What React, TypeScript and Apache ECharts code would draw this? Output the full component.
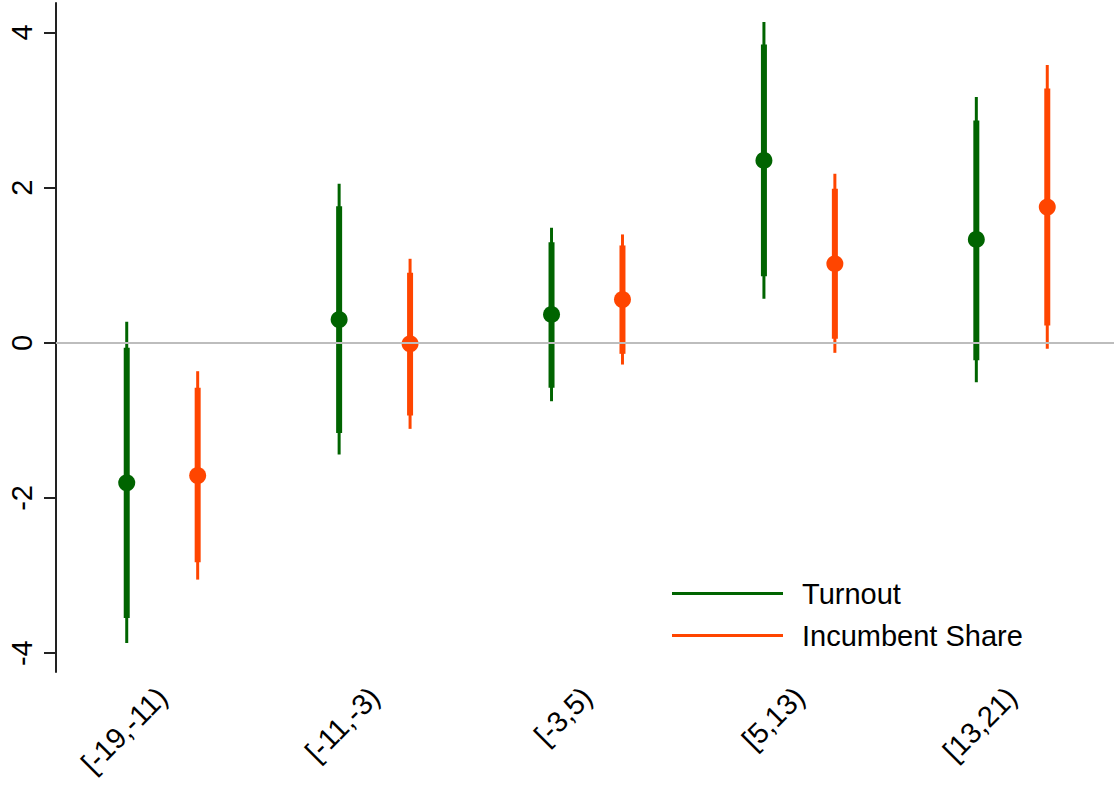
import React, { useEffect, useRef } from 'react';
import * as echarts from 'echarts';

const categories = ['[-19,-11)', '[-11,-3)', '[-3,5)', '[5,13)', '[13,21)'];
const seriesNames = ['Turnout', 'Incumbent Share'];

const turnoutEst = [-1.805, 0.3, 0.365, 2.351, 1.332];
const turnoutLo90 = [-3.546, -1.161, -0.58, 0.859, -0.224];
const turnoutHi90 = [-0.065, 1.761, 1.297, 3.846, 2.866];
const turnoutLo95 = [-3.868, -1.44, -0.753, 0.567, -0.508];
const turnoutHi95 = [0.27, 2.05, 1.483, 4.134, 3.167];

const incumbentEst = [-1.711, -0.013, 0.558, 1.019, 1.749];
const incumbentLo90 = [-2.829, -0.937, -0.142, 0.052, 0.223];
const incumbentHi90 = [-0.58, 0.903, 1.255, 1.986, 3.279];
const incumbentLo95 = [-3.052, -1.109, -0.28, -0.129, -0.077];
const incumbentHi95 = [-0.366, 1.083, 1.397, 2.179, 3.58];

const yTicks = [-4, -2, 0, 2, 4];

const GREEN = '#006400';
const ORANGE = '#ff4500';
const FONT = '"Liberation Sans", Arial, sans-serif';

function buildData(est: number[], lo90: number[], hi90: number[], lo95: number[], hi95: number[]) {
  return categories.map((_, i) => [i, est[i], lo90[i], hi90[i], lo95[i], hi95[i]]);
}

function makeRender(offset: number) {
  return (params: any, api: any) => {
    const i = api.value(0);
    const band = api.size([1, 0])[0];
    const x = api.coord([i, 0])[0] + offset * band;
    const y = (v: number) => api.coord([i, v])[1];
    const color = api.visual('color');
    return {
      type: 'group',
      children: [
        {
          type: 'line',
          shape: { x1: x, y1: y(api.value(4)), x2: x, y2: y(api.value(5)) },
          style: { stroke: color, lineWidth: 3, lineCap: 'butt' },
        },
        {
          type: 'line',
          shape: { x1: x, y1: y(api.value(2)), x2: x, y2: y(api.value(3)) },
          style: { stroke: color, lineWidth: 6, lineCap: 'butt' },
        },
        {
          type: 'circle',
          shape: { cx: x, cy: y(api.value(1)), r: 8.5 },
          style: { fill: color },
        },
      ],
    };
  };
}

export default function App() {
  const ref = useRef<HTMLDivElement>(null);
  useEffect(() => {
    if (!ref.current) return;
    const chart = echarts.init(ref.current, null, { renderer: 'svg' });
    chart.setOption({
      animation: false,
      backgroundColor: '#ffffff',
      textStyle: { fontFamily: FONT },
      grid: { left: 56, top: 3, width: 1062, bottom: 113, outerBoundsMode: 'none', containLabel: false },
      legend: {
        data: seriesNames,
        orient: 'vertical',
        left: 672,
        top: 579,
        padding: 0,
        icon: 'rect',
        itemWidth: 111,
        itemHeight: 3,
        itemGap: 13,
        selectedMode: false,
        textStyle: {
          fontSize: 29,
          lineHeight: 29,
          color: '#000',
          fontFamily: FONT,
          padding: [0, 0, 0, 14],
        },
      },
      xAxis: {
        type: 'category',
        data: categories,
        boundaryGap: true,
        axisLine: { lineStyle: { color: '#222', width: 2 } },
        axisTick: { alignWithLabel: true, length: 12, lineStyle: { color: '#222', width: 2 } },
        axisLabel: {
          rotate: 45,
          margin: 20,
          fontSize: 29,
          color: '#000',
          fontFamily: FONT,
          interval: 0,
        },
        splitLine: { show: false },
      },
      yAxis: {
        type: 'value',
        min: -4.243,
        max: 4.38,
        axisLine: { show: true, lineStyle: { color: '#222', width: 2 } },
        axisTick: { show: true, length: 12, customValues: yTicks, lineStyle: { color: '#222', width: 2 } },
        axisLabel: {
          rotate: 90,
          margin: 20,
          fontSize: 29,
          color: '#000',
          fontFamily: FONT,
          customValues: yTicks,
        },
        splitLine: { show: false },
      },
      series: [
        {
          type: 'line',
          name: 'zero',
          data: [],
          z: 1,
          silent: true,
          markLine: {
            silent: true,
            symbol: ['none', 'none'],
            label: { show: false },
            lineStyle: { color: '#bdbdbd', width: 2, type: 'solid' },
            data: [{ yAxis: 0 }],
          },
        },
        {
          type: 'custom',
          name: seriesNames[0],
          z: 3,
          itemStyle: { color: GREEN },
          encode: { x: 0, y: 1 },
          renderItem: makeRender(-0.167),
          data: buildData(turnoutEst, turnoutLo90, turnoutHi90, turnoutLo95, turnoutHi95),
        },
        {
          type: 'custom',
          name: seriesNames[1],
          z: 3,
          itemStyle: { color: ORANGE },
          encode: { x: 0, y: 1 },
          renderItem: makeRender(0.167),
          data: buildData(incumbentEst, incumbentLo90, incumbentHi90, incumbentLo95, incumbentHi95),
        },
      ],
    });
    return () => chart.dispose();
  }, []);
  return (
    <div
      ref={ref}
      style={{ position: 'fixed', left: 0, top: 0, width: 1114, height: 785, background: '#fff' }}
    />
  );
}
